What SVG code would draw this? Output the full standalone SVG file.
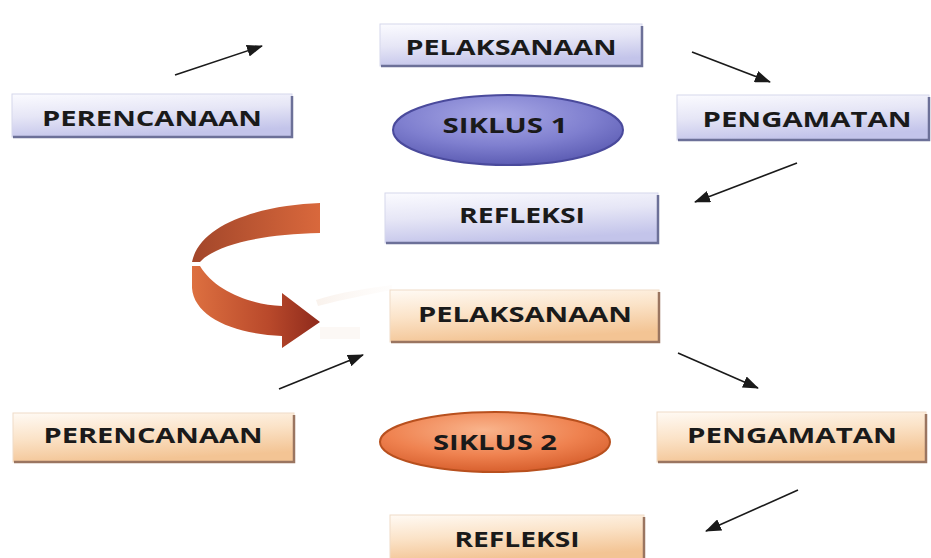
<svg xmlns="http://www.w3.org/2000/svg" width="931" height="558" viewBox="0 0 931 558">
<defs>
<linearGradient id="gBlue" x1="0" y1="0" x2="0.3" y2="1">
<stop offset="0" stop-color="#fbfbff"/>
<stop offset="0.5" stop-color="#e6e6f6"/>
<stop offset="1" stop-color="#c3c4ea"/>
</linearGradient>
<linearGradient id="gOrange" x1="0" y1="0" x2="0.3" y2="1">
<stop offset="0" stop-color="#fffaf4"/>
<stop offset="0.5" stop-color="#fbe3c8"/>
<stop offset="1" stop-color="#f3c494"/>
</linearGradient>
<radialGradient id="gEll1" cx="0.45" cy="0.3" r="0.7">
<stop offset="0" stop-color="#a9a9e6"/>
<stop offset="0.6" stop-color="#7f7fcf"/>
<stop offset="1" stop-color="#5d5db4"/>
</radialGradient>
<radialGradient id="gEll2" cx="0.45" cy="0.3" r="0.7">
<stop offset="0" stop-color="#f9b48c"/>
<stop offset="0.6" stop-color="#ef8250"/>
<stop offset="1" stop-color="#d8602e"/>
</radialGradient>
<linearGradient id="gBand1" x1="0" y1="0" x2="1" y2="0">
<stop offset="0" stop-color="#a2462a"/>
<stop offset="1" stop-color="#d9683c"/>
</linearGradient>
<linearGradient id="gBand2" x1="0" y1="0" x2="1" y2="0">
<stop offset="0" stop-color="#dd7040"/>
<stop offset="0.6" stop-color="#b9492b"/>
<stop offset="1" stop-color="#8e2a1c"/>
</linearGradient>
<linearGradient id="gGhost" x1="0" y1="0" x2="1" y2="0">
<stop offset="0" stop-color="#f8efe8" stop-opacity="0.8"/>
<stop offset="1" stop-color="#fbf5f0" stop-opacity="0.2"/>
</linearGradient>
<marker id="ah" viewBox="0 0 16 12" refX="15" refY="6" markerWidth="16" markerHeight="12" markerUnits="userSpaceOnUse" orient="auto">
<path d="M0,0 L16,6 L0,12 Z" fill="#1a1a1a"/>
</marker>
</defs>
<style>
.lbl{font-family:"Open Sans","Liberation Sans",sans-serif;font-weight:bold;font-size:22px;fill:#1a1a1a;text-anchor:middle}
.bb{fill:url(#gBlue);stroke:#d6d7ec;stroke-width:1}
.ob{fill:url(#gOrange);stroke:#f0dcc8;stroke-width:1}
.sb{fill:none;stroke:#6c7098;stroke-width:2.5}
.so{fill:none;stroke:#9a7560;stroke-width:2.5}
.con{fill:none;stroke:#1a1a1a;stroke-width:1.6;marker-end:url(#ah)}
</style>
<rect width="931" height="558" fill="#ffffff"/>

<g id="cycle-arrow">
<path d="M316,300 C340,292 370,288 392,285 L392,290 C370,294 345,299 318,306 Z" fill="url(#gGhost)"/>
<path d="M320,327 L360,327 L360,339 L320,339 Z" fill="#faf4ef" opacity="0.6"/>
<path d="M320,203 C265,205 200,222 192,262 L200,262 C215,245 262,234 320,233 Z" fill="url(#gBand1)"/>
<path d="M192,266 L200,266 C214,290 250,305 282,306 L282,293 L320,322 L282,348 L282,336 C232,334 194,316 192,288 Z" fill="url(#gBand2)"/>
</g>

<g id="pelaksanaan1">
<rect class="bb" x="380" y="24" width="262" height="42"/>
<path class="sb" d="M642,26 L642,66 L381,66"/>
<text class="lbl" x="511" y="55" textLength="211" lengthAdjust="spacingAndGlyphs">PELAKSANAAN</text>
</g>
<g id="perencanaan1">
<rect class="bb" x="12" y="94" width="280" height="43"/>
<path class="sb" d="M292,96 L292,137 L13,137"/>
<text class="lbl" x="152" y="126" textLength="220" lengthAdjust="spacingAndGlyphs">PERENCANAAN</text>
</g>
<g id="siklus1">
<ellipse cx="508" cy="130" rx="115" ry="35" fill="url(#gEll1)" stroke="#4a4a9c" stroke-width="2"/>
<text class="lbl" x="505" y="133" textLength="125" lengthAdjust="spacingAndGlyphs">SIKLUS 1</text>
</g>
<g id="pengamatan1">
<rect class="bb" x="677" y="95" width="252" height="45"/>
<path class="sb" d="M929,97 L929,140 L678,140"/>
<text class="lbl" x="807" y="127" textLength="209" lengthAdjust="spacingAndGlyphs">PENGAMATAN</text>
</g>
<g id="refleksi1">
<rect class="bb" x="385" y="193" width="273" height="50"/>
<path class="sb" d="M658,195 L658,243 L386,243"/>
<text class="lbl" x="522" y="223" textLength="126" lengthAdjust="spacingAndGlyphs">REFLEKSI</text>
</g>

<g id="pelaksanaan2">
<rect class="ob" x="390" y="290" width="269" height="52"/>
<path class="so" d="M659,292 L659,342 L391,342"/>
<text class="lbl" x="525" y="322" textLength="214" lengthAdjust="spacingAndGlyphs">PELAKSANAAN</text>
</g>
<g id="perencanaan2">
<rect class="ob" x="13" y="413" width="281" height="49"/>
<path class="so" d="M294,415 L294,462 L14,462"/>
<text class="lbl" x="153" y="443" textLength="219" lengthAdjust="spacingAndGlyphs">PERENCANAAN</text>
</g>
<g id="siklus2">
<ellipse cx="495" cy="442" rx="115" ry="30" fill="url(#gEll2)" stroke="#b8501e" stroke-width="2"/>
<text class="lbl" x="495" y="450" textLength="124" lengthAdjust="spacingAndGlyphs">SIKLUS 2</text>
</g>
<g id="pengamatan2">
<rect class="ob" x="657" y="412" width="269" height="50"/>
<path class="so" d="M926,414 L926,462 L658,462"/>
<text class="lbl" x="792" y="443" textLength="210" lengthAdjust="spacingAndGlyphs">PENGAMATAN</text>
</g>
<g id="refleksi2">
<rect class="ob" x="390" y="515" width="254" height="45"/>
<path class="so" d="M644,517 L644,560"/>
<text class="lbl" x="517" y="547" textLength="125" lengthAdjust="spacingAndGlyphs">REFLEKSI</text>
</g>

<g id="connectors">
<line class="con" x1="175" y1="75" x2="262" y2="46"/>
<line class="con" x1="692" y1="52" x2="770" y2="82"/>
<line class="con" x1="797" y1="163" x2="695" y2="202"/>
<line class="con" x1="279" y1="389" x2="363" y2="355"/>
<line class="con" x1="678" y1="353" x2="758" y2="388"/>
<line class="con" x1="798" y1="490" x2="706" y2="531"/>
</g>
</svg>
